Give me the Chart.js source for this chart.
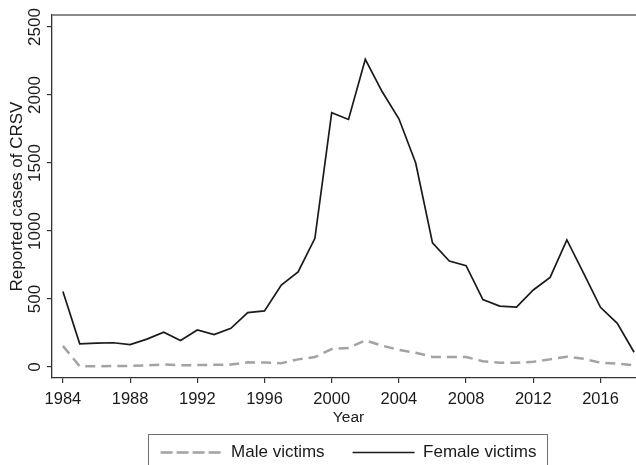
<!DOCTYPE html>
<html>
<head>
<meta charset="utf-8">
<script src="https://cdn.jsdelivr.net/npm/chart.js@4/dist/chart.umd.min.js"></script>
<style>
html,body{margin:0;padding:0;overflow:hidden;background:#fff;width:636px;height:465px;}
canvas{display:block;}
</style>
</head>
<body>
<canvas id="c" width="660" height="471"></canvas>
<script>
const years = [1984,1985,1986,1987,1988,1989,1990,1991,1992,1993,1994,1995,1996,1997,1998,1999,2000,2001,2002,2003,2004,2005,2006,2007,2008,2009,2010,2011,2012,2013,2014,2015,2016,2017,2018];
const maleVictims = [155,5,6,7,8,12,18,12,14,16,18,34,33,28,56,73,132,140,196,157,125,105,74,74,74,42,32,32,38,56,76,60,32,24,12];
const femaleVictims = [555,170,175,178,165,205,255,195,272,238,284,400,412,603,699,946,1870,1820,2262,2025,1825,1500,912,779,745,495,448,441,566,659,934,689,439,321,108];
const xTicks = [1984,1988,1992,1996,2000,2004,2008,2012,2016];
const yTicks = [0,500,1000,1500,2000,2500];
const seriesNames = ['Male victims','Female victims'];
const xTitle = 'Year';
const yTitle = 'Reported cases of CRSV';

const FONT = "'Liberation Sans', Arial, Helvetica, sans-serif";
const TXT = '#1a1a1a';
const AX = '#333333';

const framePlugin = {
  id: 'frame',
  beforeDatasetsDraw(chart) {
    const {ctx, chartArea: a} = chart;
    ctx.save();
    ctx.strokeStyle = '#8a8a8a';
    ctx.lineWidth = 2;
    ctx.beginPath();
    ctx.moveTo(a.left, a.top);
    ctx.lineTo(a.right, a.top);
    ctx.lineTo(a.right, a.bottom);
    ctx.stroke();
    ctx.restore();
  },
  afterDraw(chart) {
    const lg = chart.legend;
    if (!lg || !lg.legendHitBoxes || !lg.legendHitBoxes.length) return;
    const hb = lg.legendHitBoxes;
    let l = Infinity, r = -Infinity, cy = 0;
    hb.forEach(h => { l = Math.min(l, h.left); r = Math.max(r, h.left + h.width); cy = h.top + h.height / 2; });
    const {ctx} = chart;
    ctx.save();
    ctx.strokeStyle = '#6e6e6e';
    ctx.lineWidth = 1;
    ctx.strokeRect(Math.round(l - 13) + 0.5, Math.round(cy - 19) + 0.5, Math.round(r - l + 23), 40);
    ctx.restore();
  }
};

new Chart(document.getElementById('c'), {
  type: 'line',
  data: {
    datasets: [
      {
        label: seriesNames[0],
        data: years.map((y, i) => ({x: y, y: maleVictims[i]})),
        borderColor: '#a3a3a3',
        backgroundColor: 'transparent',
        borderWidth: 2.5,
        borderDash: [10, 6],
        pointRadius: 0,
        tension: 0
      },
      {
        label: seriesNames[1],
        data: years.map((y, i) => ({x: y, y: femaleVictims[i]})),
        borderColor: '#1a1a1a',
        backgroundColor: 'transparent',
        borderWidth: 1.7,
        pointRadius: 0,
        tension: 0
      }
    ]
  },
  options: {
    responsive: false,
    devicePixelRatio: 1,
    animation: false,
    layout: {padding: {top: 15, right: 15, left: 0, bottom: 0}},
    plugins: {
      tooltip: {enabled: false},
      legend: {
        display: true,
        position: 'bottom',
        fullSize: false,
        labels: {
          font: {family: FONT, size: 17},
          color: TXT,
          boxWidth: 62,
          boxHeight: 0,
          padding: 28
        }
      }
    },
    scales: {
      x: {
        type: 'linear',
        min: 1983.35,
        max: 2018.65,
        afterBuildTicks: s => { s.ticks = xTicks.map(v => ({value: v})); },
        afterFit: s => { s.height = 38; },
        grid: {drawOnChartArea: false, drawTicks: true, tickLength: 5, color: AX, lineWidth: 1.2},
        border: {display: true, color: AX, width: 1.3},
        ticks: {
          font: {family: FONT, size: 16.5},
          color: TXT,
          padding: 7,
          maxRotation: 0,
          minRotation: 0,
          autoSkip: false,
          callback: v => String(v)
        },
        title: {
          display: true,
          text: xTitle,
          font: {family: FONT, size: 15.5},
          color: TXT,
          padding: {top: 0, bottom: -11.3}
        }
      },
      y: {
        type: 'linear',
        min: -81,
        max: 2588,
        afterBuildTicks: s => { s.ticks = yTicks.map(v => ({value: v})); },
        afterFit: s => { s.width = 52; },
        grid: {drawOnChartArea: false, drawTicks: true, tickLength: 5, color: AX, lineWidth: 1.2},
        border: {display: true, color: AX, width: 1.3},
        ticks: {
          font: {family: FONT, size: 17},
          color: TXT,
          padding: -7,
          minRotation: 90,
          maxRotation: 90,
          crossAlign: 'center',
          autoSkip: false,
          callback: v => String(v)
        },
        title: {
          display: true,
          text: yTitle,
          font: {family: FONT, size: 17},
          color: TXT,
          padding: {top: 7.5, bottom: 0}
        }
      }
    }
  },
  plugins: [framePlugin]
});
</script>
</body>
</html>
